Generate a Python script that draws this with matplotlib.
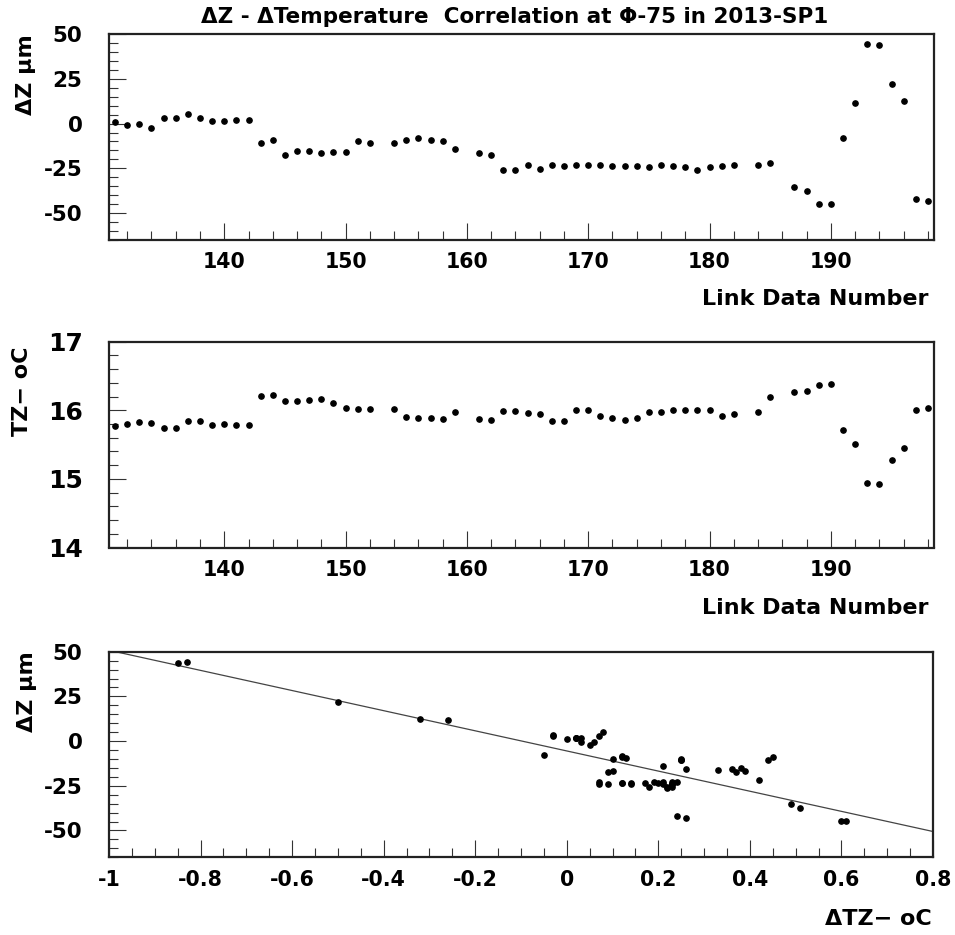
import numpy as np
import matplotlib
matplotlib.use("Agg")
import matplotlib.pyplot as plt
from matplotlib.ticker import MultipleLocator

plt.rcParams['font.family'] = ['DejaVu Sans']
plt.rcParams['axes.unicode_minus'] = False

# link data numbers (153, 160, 183, 186 have no entry)
link = [131, 132, 133, 134, 135, 136, 137, 138, 139, 140, 141, 142,
        143, 144, 145, 146, 147, 148, 149, 150, 151, 152,
        154, 155, 156, 157, 158, 159,
        161, 162, 163, 164, 165, 166, 167, 168, 169, 170, 171, 172,
        173, 174, 175, 176, 177, 178, 179, 180, 181, 182,
        184, 185,
        187, 188, 189, 190, 191, 192, 193, 194, 195, 196, 197, 198]

# delta Z in micrometres
dz = [1.0, -0.7, -0.3, -2.2, 2.9, 3.3, 5.2, 2.9, 1.6, 1.6, 2.0, 2.0,
      -10.6, -8.9, -17.3, -15.5, -15.3, -16.7, -16.0, -15.7, -9.8, -10.6,
      -10.6, -9.4, -8.3, -8.9, -9.8, -14.2,
      -16.7, -17.5, -26.1, -25.7, -22.9, -25.6, -22.9, -23.9, -22.9, -23.1, -23.3, -23.6,
      -23.9, -23.6, -24.1, -23.3, -23.9, -24.1, -25.7, -24.1, -23.9, -23.3,
      -23.1, -22.0,
      -35.3, -37.7, -44.7, -44.7, -8.0, 11.7, 44.3, 43.7, 22.0, 12.6, -42.0, -43.0]

# TZ temperature in deg C
temp = [15.77, 15.80, 15.83, 15.82, 15.74, 15.74, 15.85, 15.84, 15.79, 15.80, 15.79, 15.79,
        16.21, 16.22, 16.14, 16.13, 16.15, 16.16, 16.10, 16.03, 16.02, 16.02,
        16.02, 15.90, 15.89, 15.89, 15.87, 15.98,
        15.87, 15.86, 15.99, 15.99, 15.96, 15.95, 15.84, 15.84, 16.00, 16.01, 15.91, 15.89,
        15.86, 15.89, 15.98, 15.97, 16.00, 16.00, 16.00, 16.00, 15.91, 15.94,
        15.98, 16.19,
        16.26, 16.28, 16.37, 16.38, 15.72, 15.51, 14.94, 14.92, 15.27, 15.45, 16.01, 16.03]

link = np.array(link)
dz = np.array(dz)
temp = np.array(temp)
dtemp = temp - temp[0]

slope, intercept = np.polyfit(dtemp, dz, 1)

fig = plt.figure(figsize=(9.55, 9.35), dpi=100)
W, H = 955, 935


def box(x0, y0, x1, y1):
    return [x0 / W, 1 - y1 / H, (x1 - x0) / W, (y1 - y0) / H]


ax1 = fig.add_axes(box(109, 34, 934, 240))
ax2 = fig.add_axes(box(109, 341.7, 934, 547.5))
ax3 = fig.add_axes(box(109, 651.7, 933, 857.3))


def style(ax, ysize):
    for s in ax.spines.values():
        s.set_linewidth(1.6)
        s.set_color('#222222')
    ax.tick_params(which='both', direction='in', top=False, right=False,
                   width=0.8, color='#333333')
    ax.tick_params(which='major', length=12)
    ax.tick_params(which='minor', length=6.5)
    ax.tick_params(axis='x', labelsize=14.8, pad=9)
    ax.tick_params(axis='y', labelsize=ysize, pad=19)
    for lab in ax.get_xticklabels() + ax.get_yticklabels():
        lab.set_fontweight('bold')


mk = dict(ls='none', marker='o', ms=3.8, color='black', mec='black')

# top: delta Z vs link number
ax1.plot(link, dz, **mk)
ax1.set_xlim(130.5, 198.5)
ax1.set_ylim(-65, 50)
ax1.xaxis.set_major_locator(MultipleLocator(10))
ax1.xaxis.set_minor_locator(MultipleLocator(2))
ax1.yaxis.set_major_locator(MultipleLocator(25))
ax1.yaxis.set_minor_locator(MultipleLocator(5))
style(ax1, 15.5)

# middle: temperature vs link number
ax2.plot(link, temp, **mk)
ax2.set_xlim(130.5, 198.5)
ax2.set_ylim(14, 17)
ax2.xaxis.set_major_locator(MultipleLocator(10))
ax2.xaxis.set_minor_locator(MultipleLocator(2))
ax2.yaxis.set_major_locator(MultipleLocator(1))
ax2.yaxis.set_minor_locator(MultipleLocator(0.2))
style(ax2, 18)

# bottom: delta Z vs delta T with linear fit
xfit = np.array([-1.0, 0.8])
ax3.plot(xfit, slope * xfit + intercept, color='#444444', lw=0.9)
ax3.plot(dtemp, dz, **mk)
ax3.set_xlim(-1, 0.8)
ax3.set_ylim(-65, 50)
ax3.xaxis.set_minor_locator(MultipleLocator(0.05))
ax3.yaxis.set_major_locator(MultipleLocator(25))
ax3.yaxis.set_minor_locator(MultipleLocator(5))
ax3.set_xticks([-1, -0.8, -0.6, -0.4, -0.2, 0, 0.2, 0.4, 0.6, 0.8])
ax3.set_xticklabels(['-1', '-0.8', '-0.6', '-0.4', '-0.2', '0', '0.2', '0.4', '0.6', '0.8'])
style(ax3, 15.5)

lab = dict(fontsize=16, fontweight='bold')
ax1.text(-0.10, 1.0, 'ΔZ μm', rotation=90, ha='center', va='top',
         transform=ax1.transAxes, **lab)
ax2.text(-0.105, 0.975, 'TZ− oC', rotation=90, ha='center', va='top',
         transform=ax2.transAxes, **lab)
ax3.text(-0.10, 1.0, 'ΔZ μm', rotation=90, ha='center', va='top',
         transform=ax3.transAxes, **lab)

ax1.text(0.993, -0.286, 'Link Data Number', ha='right', va='center',
         transform=ax1.transAxes, **lab)
ax2.text(0.993, -0.294, 'Link Data Number', ha='right', va='center',
         transform=ax2.transAxes, **lab)
ax3.text(0.998, -0.30, 'ΔTZ− oC', ha='right', va='center',
         transform=ax3.transAxes, **lab)

fig.text(515 / W, 1 - 17 / H, 'ΔZ - ΔTemperature  Correlation at Φ-75 in 2013-SP1',
         ha='center', va='center', fontsize=15.5, fontweight='bold')

fig.savefig('out.png', dpi=100)
